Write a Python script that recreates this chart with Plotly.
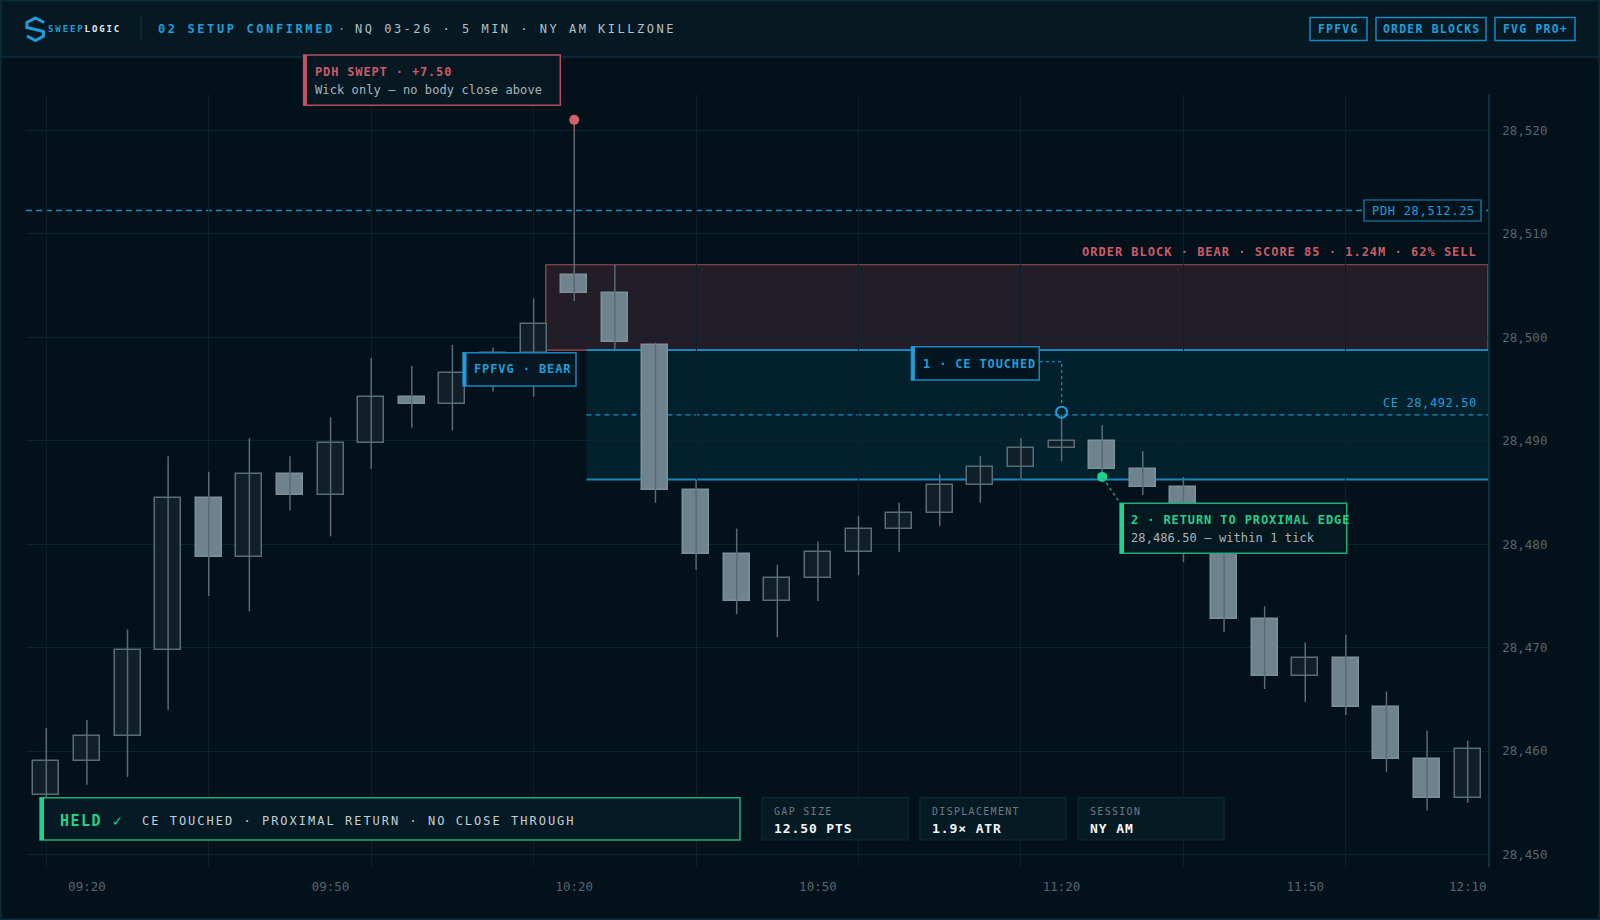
import plotly.graph_objects as go

# candles, 5 min, 09:15 -> 12:10
opens = [28455.75, 28459.00, 28461.50, 28469.75, 28484.50, 28478.75, 28486.75, 28484.75, 28489.75, 28494.25,
         28493.50, 28496.50, 28498.50, 28506.00, 28504.25, 28499.25, 28485.25, 28479.00, 28474.50, 28476.75,
         28479.25, 28481.50, 28483.00, 28485.75, 28487.50, 28489.25, 28490.00, 28487.25, 28485.50, 28479.00,
         28472.75, 28467.25, 28469.00, 28464.25, 28459.25, 28455.50]
highs = [28462.25, 28463.00, 28471.75, 28488.50, 28487.00, 28490.25, 28488.50, 28492.25, 28498.00, 28497.25,
         28499.25, 28499.00, 28503.75, 28519.75, 28507.00, 28499.50, 28486.25, 28481.50, 28478.00, 28480.25,
         28482.75, 28484.00, 28486.75, 28488.50, 28490.25, 28492.50, 28491.50, 28489.00, 28486.50, 28479.50,
         28474.00, 28470.50, 28471.25, 28465.75, 28462.00, 28461.00]
lows = [28455.00, 28456.75, 28457.50, 28464.00, 28475.00, 28473.50, 28483.25, 28480.75, 28487.25, 28491.25,
        28491.00, 28494.75, 28494.25, 28503.50, 28498.75, 28484.00, 28477.50, 28473.25, 28471.00, 28474.50,
        28477.00, 28479.25, 28481.75, 28484.00, 28486.25, 28488.00, 28486.50, 28484.75, 28478.25, 28471.50,
        28466.00, 28464.75, 28463.50, 28458.00, 28454.25, 28455.00]
closes = [28459.00, 28461.50, 28469.75, 28484.50, 28478.75, 28486.75, 28484.75, 28489.75, 28494.25, 28493.50,
          28496.50, 28498.50, 28501.25, 28504.25, 28499.50, 28485.25, 28479.00, 28474.50, 28476.75, 28479.25,
          28481.50, 28483.00, 28485.75, 28487.50, 28489.25, 28490.00, 28487.25, 28485.50, 28479.00, 28472.75,
          28467.25, 28469.00, 28464.25, 28459.25, 28455.50, 28460.25]

tick_pos = [1, 7, 13, 19, 25, 31, 35]
tick_labels = ["09:20", "09:50", "10:20", "10:50", "11:20", "11:50", "12:10"]
price_ticks = [28450, 28460, 28470, 28480, 28490, 28500, 28510, 28520]

# levels
pdh = 28512.25
ob_top, ob_bot = 28507.00, 28498.75
fvg_top, fvg_bot = 28498.75, 28486.25
ce = 28492.50
sweep_bar = 13
ce_bar = 25
return_bar = 26
return_price = 28486.50

MONO = "DejaVu Sans Mono"
BG = "#03111a"
BLUE = "#1e9fd9"
LINEBLUE = "#1787bd"
RED = "#cc5b69"
GREEN = "#22d08e"
GRAY = "#a9b5bc"
AXIS = "#566770"

# plot area in pixels
W, H = 1600, 920
L, R, T, B = 26, 1488, 94, 867


def px(x):
    return (x - L) / (R - L)


def py(y):
    return (B - y) / (B - T)


shapes = []
annotations = []


def rect(x0, y0, x1, y1, fill="rgba(0,0,0,0)", line="rgba(0,0,0,0)", lw=0):
    shapes.append(dict(type="rect", xref="paper", yref="paper", x0=px(x0), x1=px(x1), y0=py(y1), y1=py(y0),
                       fillcolor=fill, line=dict(color=line, width=lw), layer="above"))


def txt(x, y, s, size=12, color=GRAY, bold=False, ls=0, anchor="left"):
    if ls:
        s = '<span style="letter-spacing:%spx">%s</span>' % (ls, s)
    annotations.append(dict(x=px(x), y=py(y), xref="paper", yref="paper", text=s, showarrow=False,
                            xanchor=anchor, yanchor="middle", borderpad=0, borderwidth=0,
                            font=dict(family=MONO, size=size, color=color,
                                      weight="bold" if bold else "normal")))


n = len(opens)
xs = list(range(n))
bull = [c >= o for o, c in zip(opens, closes)]

wick_x, wick_y = [], []
for i in xs:
    wick_x += [i, i, None]
    wick_y += [lows[i], highs[i], None]

fig = go.Figure()
fig.add_trace(go.Scatter(x=wick_x, y=wick_y, mode="lines", line=dict(color="#5a6b75", width=1.5),
                         hoverinfo="skip", showlegend=False))
fig.add_trace(go.Bar(x=xs, y=[abs(c - o) for o, c in zip(opens, closes)],
                     base=[min(o, c) for o, c in zip(opens, closes)], width=0.64,
                     marker=dict(color=["#101f28" if b else "#6f838f" for b in bull],
                                 line=dict(color=["#5b6d78" if b else "#7d909b" for b in bull], width=1.5)),
                     hoverinfo="skip", showlegend=False))
# sweep marker above the wick
fig.add_trace(go.Scatter(x=[sweep_bar, sweep_bar], y=[highs[sweep_bar], highs[sweep_bar] + 1.25],
                         mode="lines", line=dict(color="#8a5a64", width=1.5), hoverinfo="skip", showlegend=False))
fig.add_trace(go.Scatter(x=[sweep_bar], y=[highs[sweep_bar] + 1.25], mode="markers",
                         marker=dict(size=10, color="#d0606c"), hoverinfo="skip", showlegend=False))
fig.add_trace(go.Scatter(x=[ce_bar], y=[ce + 0.25], mode="markers",
                         marker=dict(size=11, color="rgba(0,0,0,0)", line=dict(color=BLUE, width=2)),
                         hoverinfo="skip", showlegend=False))
fig.add_trace(go.Scatter(x=[return_bar], y=[return_price], mode="markers",
                         marker=dict(size=10, color=GREEN), hoverinfo="skip", showlegend=False))

# zones (data coords)
ob_x0 = sweep_bar - 0.7
fvg_x0 = sweep_bar + 0.3
shapes.append(dict(type="rect", x0=ob_x0, x1=n - 0.5, y0=ob_bot, y1=ob_top, fillcolor="#221d26",
                   line=dict(color="#a54c5a", width=1.2), layer="below"))
shapes.append(dict(type="rect", x0=fvg_x0, x1=n - 0.5, y0=fvg_bot, y1=fvg_top, fillcolor="#03202d",
                   line=dict(width=0), layer="below"))
for lvl in (fvg_top, fvg_bot):
    shapes.append(dict(type="line", x0=fvg_x0, x1=n - 0.5, y0=lvl, y1=lvl, line=dict(color=LINEBLUE, width=2),
                       layer="below"))
shapes.append(dict(type="line", x0=fvg_x0, x1=n - 0.5, y0=ce, y1=ce,
                   line=dict(color="#1a8fc6", width=1.2, dash="5px,4px"), layer="below"))
shapes.append(dict(type="line", x0=-0.5, x1=n - 0.5, y0=pdh, y1=pdh,
                   line=dict(color="#1a8fc6", width=1.5, dash="6px,4px"), layer="below"))

# header
rect(0, 0, W, 57, fill="#061923")
shapes.append(dict(type="line", xref="paper", yref="paper", x0=px(0), x1=px(W), y0=py(57), y1=py(57),
                   line=dict(color="#0f2e3d", width=1.5), layer="above"))
shapes.append(dict(type="line", xref="paper", yref="paper", x0=px(141), x1=px(141), y0=py(17), y1=py(40),
                   line=dict(color="#12313f", width=1.2), layer="above"))
logo = [(44, 22.5), (35.5, 18), (27, 22.5), (27, 27.5), (43.5, 31.5), (43.5, 36), (35.5, 40.5), (27, 36)]
shapes.append(dict(type="path", xref="paper", yref="paper",
                   path="M" + " L".join("%.5f,%.5f" % (px(a), py(b)) for a, b in logo),
                   line=dict(color=BLUE, width=3), layer="above"))
annotations.append(dict(x=px(48), y=py(29), xref="paper", yref="paper", showarrow=False, xanchor="left",
                        yanchor="middle", borderpad=0, borderwidth=0,
                        text='<span style="letter-spacing:1.9px;color:#1e9fd9">SWEEP</span>'
                             '<span style="letter-spacing:1.9px;color:#e6edf1">LOGIC</span>',
                        font=dict(family=MONO, size=9, weight="bold")))
txt(158, 29, "02 SETUP CONFIRMED", size=12, color=BLUE, bold=True, ls=2.6)
txt(341, 29, "·", size=12, color="#8a979e", anchor="center")
txt(355, 29, "NQ 03-26 · 5 MIN · NY AM KILLZONE", size=12, color="#b5c0c7", ls=2.5)
for x0, x1, label in [(1310, 1367, "FPFVG"), (1376, 1486, "ORDER BLOCKS"), (1495, 1575, "FVG PRO+")]:
    rect(x0, 17.5, x1, 40.5, line="#1589c0", lw=1.5)
    txt((x0 + x1) / 2, 29.3, label, size=11.5, color=BLUE, bold=True, ls=1.2, anchor="center")

# PDH swept callout
rect(303.6, 55, 560.3, 105.3, fill="#061821", line="#b24d5b", lw=1.5)
rect(303.6, 55, 307, 105.3, fill="#c2525f")
txt(314.7, 72.3, "PDH SWEPT · +7.50", size=12, color=RED, bold=True, ls=0.85)
txt(314.7, 90, "Wick only — no body close above", size=12, color=GRAY, ls=0.1)

# PDH level label
rect(1364, 200, 1481, 221, fill="#03131c", line=LINEBLUE, lw=1.2)
txt(1372, 210.5, "PDH 28,512.25", size=12, color=BLUE, ls=0.7)

# OB / CE labels
txt(1477, 252.3, "ORDER BLOCK · BEAR · SCORE 85 · 1.24M · 62% SELL", size=12, color=RED, bold=True, ls=1,
    anchor="right")
txt(1477, 403.3, "CE 28,492.50", size=12, color=BLUE, ls=0.6, anchor="right")

# FPFVG tag
rect(463, 352.7, 576, 386, fill="#041722", line=LINEBLUE, lw=1.5)
rect(463, 352.7, 466.5, 386, fill=BLUE)
txt(474, 369.3, "FPFVG · BEAR", size=12, color=BLUE, bold=True, ls=0.9)

# step 1
rect(911.4, 346.7, 1039.3, 380, fill="#03161f", line=LINEBLUE, lw=1.5)
rect(911.4, 346.7, 914.9, 380, fill=BLUE)
txt(922.7, 364, "1 · CE TOUCHED", size=12, color=BLUE, bold=True, ls=0.85)
shapes.append(dict(type="path", xref="paper", yref="paper",
                   path="M%.5f,%.5f L%.5f,%.5f L%.5f,%.5f" % (px(1040), py(361.7), px(1061.7), py(361.7),
                                                              px(1061.7), py(406)),
                   line=dict(color=LINEBLUE, width=1.3, dash="dot"), layer="above"))

# step 2
shapes.append(dict(type="line", xref="paper", yref="paper", x0=px(1103), y0=py(478), x1=px(1120), y1=py(503),
                   line=dict(color="#1fae7a", width=1.3, dash="dot"), layer="above"))
rect(1120, 503.3, 1346.7, 553.3, fill="#041820", line="#1fae7a", lw=1.5)
rect(1120, 503.3, 1124, 553.3, fill=GREEN)
txt(1130.7, 520.3, "2 · RETURN TO PROXIMAL EDGE", size=12, color=GREEN, bold=True, ls=0.9)
txt(1130.7, 537.7, "28,486.50 — within 1 tick", size=12, color=GRAY, ls=0.1)

# verdict bar
rect(40, 797.7, 740, 840, fill="#051a24", line="#1fae7a", lw=1.5)
rect(40, 797.7, 44, 840, fill=GREEN)
txt(60, 820.7, "HELD ✓", size=15, color=GREEN, bold=True, ls=1.5)
txt(142, 820.7, "CE TOUCHED · PROXIMAL RETURN · NO CLOSE THROUGH", size=12, color="#c5cfd5", ls=2)

# stat cards
for x0, label, value in [(762, "GAP SIZE", "12.50 PTS"), (920, "DISPLACEMENT", "1.9× ATR"),
                         (1078, "SESSION", "NY AM")]:
    rect(x0, 797.7, x0 + 146, 840, fill="#061a24", line="#0e2a38", lw=1.2)
    txt(x0 + 12, 811.7, label, size=10, color="#6d7b83", ls=1.3)
    txt(x0 + 12, 828, value, size=13, color="#f2f5f7", bold=True, ls=0.9)

# outer frame
shapes.append(dict(type="rect", xref="paper", yref="paper", x0=px(0.75), x1=px(W - 0.75), y0=py(H - 0.75),
                   y1=py(0.75), line=dict(color="#0f2c3b", width=1.5), layer="above"))

fig.update_layout(
    width=W, height=H,
    margin=dict(l=L, r=W - R, t=T, b=H - B),
    paper_bgcolor=BG, plot_bgcolor=BG,
    showlegend=False, hovermode=False, bargap=0,
    shapes=shapes, annotations=annotations,
    font=dict(family=MONO),
)
fig.update_xaxes(range=[-0.5, n - 0.5], tickmode="array", tickvals=tick_pos, ticktext=tick_labels,
                 showgrid=False, zeroline=False, showline=False, ticks="",
                 tickfont=dict(family=MONO, size=12.5, color=AXIS), ticklabelstandoff=10,
                 minor=dict(tickmode="array", tickvals=[0, 4, 8, 12, 16, 20, 24, 28, 32], showgrid=True,
                            gridcolor="#0b202c", gridwidth=1, ticks=""))
fig.update_yaxes(range=[28448.8, 28523.5], side="right", tickmode="array", tickvals=price_ticks,
                 tickformat=",d", showgrid=True, gridcolor="#0c2330", gridwidth=1, zeroline=False,
                 showline=True, linecolor="#10303f", linewidth=1.5, ticks="",
                 tickfont=dict(family=MONO, size=12.5, color=AXIS), ticklabelstandoff=10)

fig.write_html("out.html", config={"displayModeBar": False},
               post_script="document.body.style.margin='0';document.body.style.background='%s';" % BG)
